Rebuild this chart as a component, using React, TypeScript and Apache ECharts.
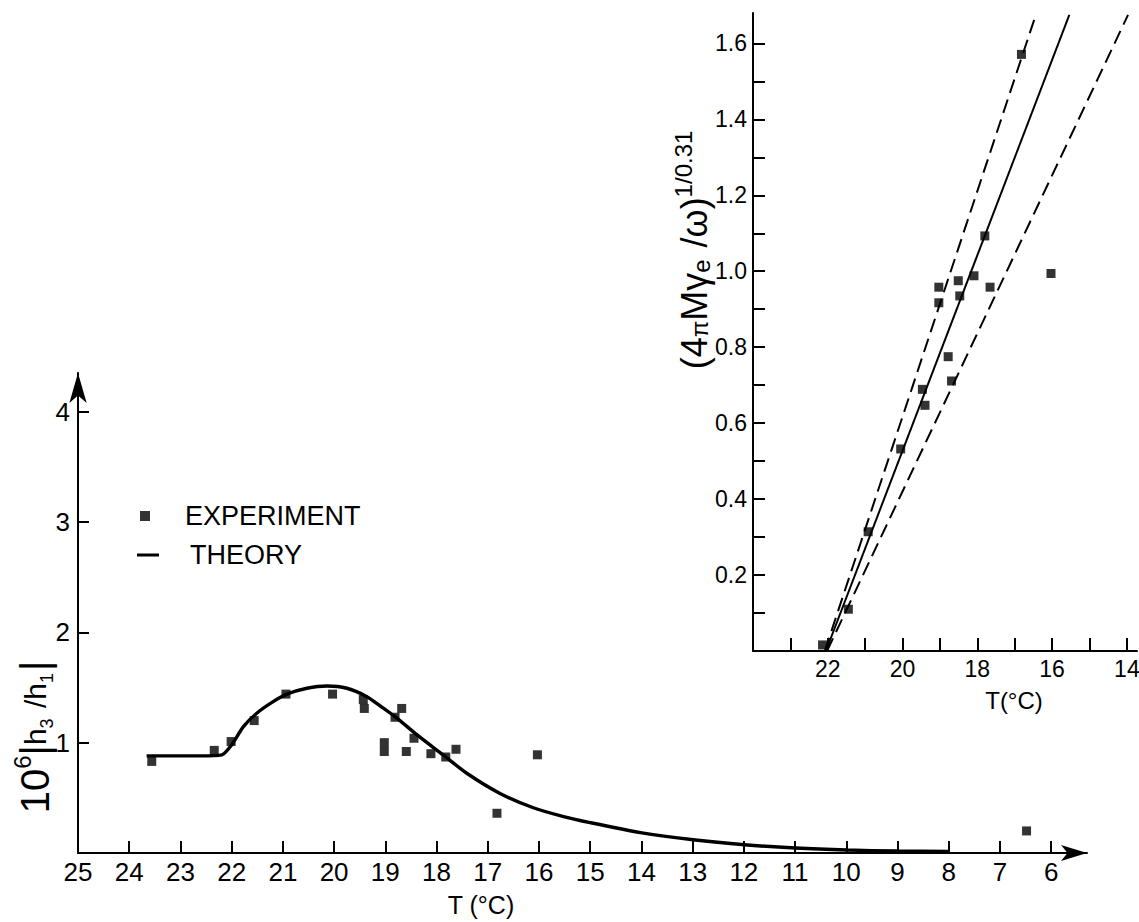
import React, { useEffect, useRef } from "react";
import * as echarts from "echarts";

const FONT = "'Liberation Sans', Arial, sans-serif";

// ---------- main chart ----------
const mainXTicks = [25, 24, 23, 22, 21, 20, 19, 18, 17, 16, 15, 14, 13, 12, 11, 10, 9, 8, 7, 6];
const mainYTicks = [1, 2, 3, 4];

// experiment points (T in °C, 10^6 |h3/h1|)
const expT = [23.56, 22.34, 22.01, 21.56, 20.94, 20.03, 19.43, 19.41, 19.02, 19.02, 18.68, 18.81, 18.59, 18.44, 18.11, 17.82, 17.62, 16.82, 16.03, 6.48];
const expY = [0.83, 0.93, 1.01, 1.2, 1.44, 1.44, 1.39, 1.31, 1.0, 0.92, 1.31, 1.23, 0.92, 1.04, 0.9, 0.87, 0.94, 0.36, 0.89, 0.2];

// theory curve
const theoryT = [23.66, 22.6, 22.19, 22.0, 21.77, 21.51, 21.19, 20.92, 20.53, 20.14, 19.75, 19.36, 19.04, 18.81, 18.38, 17.87, 17.41, 16.76, 16.11, 15.52, 15.0, 14.02, 12.99, 11.99, 10.99, 9.99, 9.0, 7.99];
const theoryY = [0.88, 0.88, 0.89, 0.98, 1.145, 1.267, 1.372, 1.44, 1.493, 1.514, 1.493, 1.417, 1.312, 1.236, 1.07, 0.888, 0.723, 0.54, 0.41, 0.33, 0.275, 0.185, 0.12, 0.075, 0.045, 0.027, 0.018, 0.014];

// ---------- inset ----------
const insetXTicks = [23, 22, 21, 20, 19, 18, 17, 16, 15, 14];
const insetXLabels = [22, 20, 18, 16, 14];
const insetYTicks = [0.1, 0.2, 0.3, 0.4, 0.5, 0.6, 0.7, 0.8, 0.9, 1.0, 1.1, 1.2, 1.3, 1.4, 1.5, 1.6];
const insetYLabels = [0.2, 0.4, 0.6, 0.8, 1.0, 1.2, 1.4, 1.6];

const insetT = [22.14, 21.45, 20.92, 20.05, 19.47, 19.4, 18.78, 18.69, 19.03, 19.03, 18.51, 18.47, 18.09, 17.66, 17.8, 16.82, 16.03];
const insetY = [0.016, 0.11, 0.314, 0.532, 0.689, 0.647, 0.775, 0.711, 0.917, 0.958, 0.975, 0.935, 0.988, 0.958, 1.093, 1.571, 0.994];

const fitT = [22.05, 15.54];
const fitY = [0, 1.675];
const upperT = [22.08, 16.43];
const upperY = [0, 1.677];
const lowerT = [22.02, 13.97];
const lowerY = [0, 1.675];

const pairs = (xs: number[], ys: number[]) => xs.map((x, i) => [x, ys[i]]);

export default function App() {
  const ref = useRef<HTMLDivElement>(null);

  useEffect(() => {
    if (!ref.current) return;
    const chart = echarts.init(ref.current, null, { renderer: "svg" });

    const axisLabelBase = { color: "#000", fontFamily: FONT };

    const option: any = {
      animation: false,
      backgroundColor: "#fff",
      grid: [
        { left: 78, top: 373, width: 1009, height: 480, outerBoundsMode: "none" },
        { left: 753, top: 13, width: 384, height: 638, outerBoundsMode: "none" },
      ],
      xAxis: [
        {
          type: "value",
          gridIndex: 0,
          inverse: true,
          min: 5.3,
          max: 25,
          splitLine: { show: false },
          axisLine: {
            show: true,
            onZero: false,
            lineStyle: { color: "#000", width: 2 },
            symbol: ["none", "arrow"],
            symbolSize: [12, 26],
            symbolOffset: [0, 0],
          },
          axisTick: { show: true, inside: true, length: 12, customValues: mainXTicks, lineStyle: { color: "#000", width: 2 } },
          axisLabel: { ...axisLabelBase, fontSize: 26, margin: 6, customValues: mainXTicks },
        },
        {
          type: "value",
          gridIndex: 1,
          inverse: true,
          min: 13.73,
          max: 24,
          splitLine: { show: false },
          axisLine: { show: true, onZero: false, lineStyle: { color: "#000", width: 2 } },
          axisTick: { show: true, inside: true, length: 13, customValues: insetXTicks, lineStyle: { color: "#000", width: 2 } },
          axisLabel: { ...axisLabelBase, fontSize: 23, margin: 6, customValues: insetXLabels },
        },
      ],
      yAxis: [
        {
          type: "value",
          gridIndex: 0,
          min: 0,
          max: 4.35,
          splitLine: { show: false },
          axisLine: {
            show: true,
            onZero: false,
            lineStyle: { color: "#000", width: 2 },
            symbol: ["none", "arrow"],
            symbolSize: [13, 30],
            symbolOffset: [0, 0],
          },
          axisTick: { show: true, inside: true, length: 11, customValues: mainYTicks, lineStyle: { color: "#000", width: 2 } },
          axisLabel: { ...axisLabelBase, fontSize: 26, margin: 8, customValues: mainYTicks },
        },
        {
          type: "value",
          gridIndex: 1,
          min: 0,
          max: 1.68,
          splitLine: { show: false },
          axisLine: { show: true, onZero: false, lineStyle: { color: "#000", width: 2 } },
          axisTick: { show: true, inside: true, length: 12, customValues: insetYTicks, lineStyle: { color: "#000", width: 2 } },
          axisLabel: {
            ...axisLabelBase,
            fontSize: 23,
            margin: 6,
            customValues: insetYLabels,
            formatter: (v: number) => v.toFixed(1),
          },
        },
      ],
      legend: [
        {
          left: 140,
          top: 501,
          padding: 0,
          itemWidth: 10,
          itemHeight: 10,
          data: [{ name: "EXPERIMENT", icon: "rect" }],
          textStyle: { color: "#000", fontFamily: FONT, fontSize: 27, lineHeight: 30, padding: [0, 0, 0, 30] },
          selectedMode: false,
        },
        {
          left: 137,
          top: 540,
          padding: 0,
          itemWidth: 22,
          itemHeight: 3,
          data: [{ name: "THEORY", icon: "rect" }],
          textStyle: { color: "#000", fontFamily: FONT, fontSize: 27, lineHeight: 30, padding: [0, 0, 0, 26] },
          selectedMode: false,
        },
      ],
      series: [
        {
          name: "THEORY",
          type: "line",
          xAxisIndex: 0,
          yAxisIndex: 0,
          data: pairs(theoryT, theoryY),
          smooth: 0.25,
          showSymbol: false,
          symbol: "none",
          lineStyle: { color: "#000", width: 3.4 },
          itemStyle: { color: "#000" },
          z: 3,
        },
        {
          name: "EXPERIMENT",
          type: "scatter",
          xAxisIndex: 0,
          yAxisIndex: 0,
          data: pairs(expT, expY),
          symbol: "rect",
          symbolSize: 9,
          itemStyle: { color: "#000" },
          z: 4,
        },
        {
          name: "inset data",
          type: "scatter",
          xAxisIndex: 1,
          yAxisIndex: 1,
          data: pairs(insetT, insetY),
          symbol: "rect",
          symbolSize: 9,
          itemStyle: { color: "#000" },
          z: 4,
        },
        {
          name: "fit",
          type: "line",
          xAxisIndex: 1,
          yAxisIndex: 1,
          data: pairs(fitT, fitY),
          showSymbol: false,
          symbol: "none",
          lineStyle: { color: "#000", width: 2 },
        },
        {
          name: "upper bound",
          type: "line",
          xAxisIndex: 1,
          yAxisIndex: 1,
          data: pairs(upperT, upperY),
          showSymbol: false,
          symbol: "none",
          lineStyle: { color: "#000", width: 2, type: [14, 7] },
        },
        {
          name: "lower bound",
          type: "line",
          xAxisIndex: 1,
          yAxisIndex: 1,
          data: pairs(lowerT, lowerY),
          showSymbol: false,
          symbol: "none",
          lineStyle: { color: "#000", width: 2, type: [14, 7] },
        },
      ],
      graphic: [
        {
          type: "text",
          x: 481,
          y: 905,
          style: { text: "T (°C)", fontSize: 25, fontFamily: FONT, fill: "#000", align: "center", verticalAlign: "middle" },
        },
        {
          type: "text",
          x: 1014,
          y: 700,
          style: { text: "T(°C)", fontSize: 24, fontFamily: FONT, fill: "#000", align: "center", verticalAlign: "middle" },
        },
        {
          type: "text",
          x: 35,
          y: 737,
          rotation: Math.PI / 2,
          style: {
            text: "{a|10}{sup|6}{a||}{b|h}{sub|3}{b| /}{b|h}{sub|1}{a||}",
            align: "center",
            verticalAlign: "middle",
            fill: "#000",
            fontFamily: FONT,
            rich: {
              a: { fontSize: 40, fontFamily: FONT, fill: "#000", lineHeight: 50, verticalAlign: "middle" },
              b: { fontSize: 30, fontFamily: FONT, fill: "#000", lineHeight: 50, verticalAlign: "middle" },
              sup: { fontSize: 24, fontFamily: FONT, fill: "#000", verticalAlign: "top" },
              sub: { fontSize: 18, fontFamily: FONT, fill: "#000", verticalAlign: "bottom", padding: [0, 2, 4, 0] },
            },
          },
        },
        {
          type: "text",
          x: 694,
          y: 250,
          rotation: Math.PI / 2,
          style: {
            text: "{a|(4}{pi|π}{a|M}{a|γ}{sub|e}{a| /ω)}{sup|1/0.31}",
            align: "center",
            verticalAlign: "middle",
            fill: "#000",
            fontFamily: FONT,
            rich: {
              a: { fontSize: 36, fontFamily: FONT, fill: "#000", lineHeight: 46, verticalAlign: "middle" },
              pi: { fontSize: 24, fontFamily: FONT, fill: "#000", verticalAlign: "bottom", padding: [0, 0, 6, 0] },
              sup: { fontSize: 24, fontFamily: FONT, fill: "#000", verticalAlign: "top" },
              sub: { fontSize: 24, fontFamily: FONT, fill: "#000", verticalAlign: "bottom", padding: [0, 2, 4, 0] },
            },
          },
        },
      ],
    };

    chart.setOption(option);
    return () => chart.dispose();
  }, []);

  return (
    <div
      ref={ref}
      style={{ position: "absolute", left: 0, top: 0, width: 1139, height: 922, background: "#fff" }}
    />
  );
}
